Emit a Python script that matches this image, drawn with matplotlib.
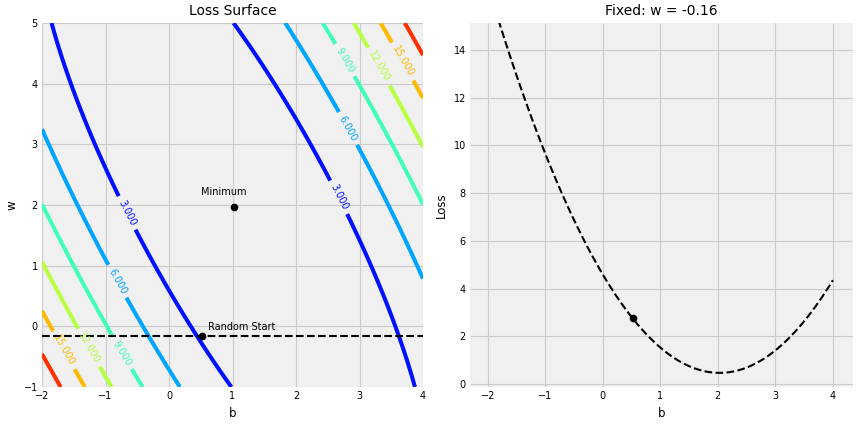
import numpy as np
import matplotlib
matplotlib.use("Agg")
import matplotlib.pyplot as plt

# regression statistics (loss is a quadratic in b, w)
b_minimum = 1.02
w_minimum = 1.97
x_mean = 0.474
x_sq_mean = 0.327
residual_mse = 0.008

# parameter grid
b_range = np.linspace(-2, 4, 101)
w_range = np.linspace(-1, 5, 101)

# random start (snapped to grid) and the fixed w for the cross-section
b_start = 0.52
w_fixed = -0.16

contour_levels = [0, 3, 6, 9, 12, 15, 18, 21]
label_spots = [(-0.66, 1.87), (2.66, 2.12), (2.80, 3.25), (-0.80, 0.75),
               (2.77, 4.39), (-0.74, -0.44), (3.29, 4.27), (-1.24, -0.34),
               (3.67, 4.36), (-1.65, -0.39)]


def mse(b, w):
    db = b - b_minimum
    dw = w - w_minimum
    return db**2 + 2 * db * dw * x_mean + dw**2 * x_sq_mean + residual_mse


plt.style.use("fivethirtyeight")
plt.rcParams["font.family"] = "DejaVu Sans"

fig = plt.figure(figsize=(8.56, 4.24), dpi=100, facecolor="white")
ax1 = fig.add_axes([42 / 856, 37 / 424, 381 / 856, 364 / 424])
ax2 = fig.add_axes([470 / 856, 37 / 424, 383 / 856, 364 / 424])

bs, ws = np.meshgrid(b_range, w_range)
all_losses = mse(bs, ws)

# left: loss surface
cs = ax1.contour(bs, ws, all_losses, levels=contour_levels, cmap=plt.cm.jet,
                 linewidths=2.9)
ax1.clabel(cs, fmt="%1.3f", fontsize=7, inline=True, manual=label_spots)
ax1.plot([b_minimum], [w_minimum], "ko", markersize=4.5)
ax1.annotate("Minimum", xy=(0.5, 2.17), fontsize=7, color="k")
ax1.plot([b_start], [w_fixed], "ko", markersize=4.5)
ax1.annotate("Random Start", xy=(b_start + 0.1, w_fixed + 0.1), fontsize=7, color="k")
ax1.axhline(w_fixed, color="k", linestyle="--", linewidth=1.5)
ax1.set_xlim(-2, 4)
ax1.set_ylim(-1, 5)
ax1.set_title("Loss Surface", fontsize=10)
ax1.set_xlabel("b", fontsize=8.5)
ax1.set_ylabel("w", fontsize=8.5)

# right: cross-section at fixed w
ax2.plot(b_range, mse(b_range, w_fixed), c="k", linestyle="--", linewidth=1.5)
ax2.plot([b_start], [mse(b_start, w_fixed)], "ko", markersize=4.5)
ax2.set_xlim(-2.31, 4.35)
ax2.set_ylim(-0.12, 15.13)
ax2.set_title("Fixed: w = {:.2f}".format(w_fixed), fontsize=10)
ax2.set_xlabel("b", fontsize=8.5)
ax2.set_ylabel("Loss", fontsize=8.5)

for ax in (ax1, ax2):
    ax.set_facecolor("#f0f0f0")
    ax.tick_params(labelsize=7, length=0, pad=3)
    ax.grid(True, color="#cbcbcb", linewidth=0.8)
    for s in ax.spines.values():
        s.set_visible(False)

fig.savefig("out.png", dpi=100, facecolor="white")
